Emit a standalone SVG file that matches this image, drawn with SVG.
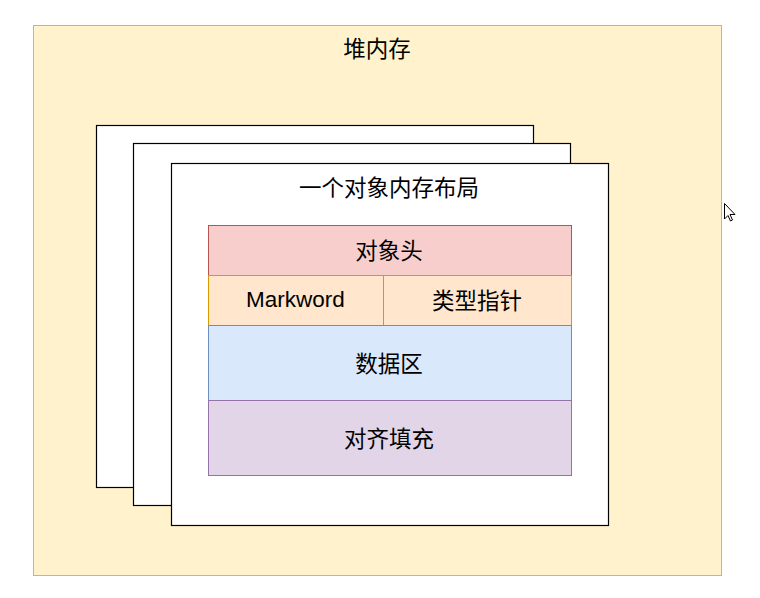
<svg xmlns="http://www.w3.org/2000/svg" width="760" height="598" viewBox="0 0 760 598">
<style>
  text { font-family: "Noto Sans CJK SC", "Liberation Sans", sans-serif; font-size: 22.5px; fill: #000; text-anchor: middle; dominant-baseline: central; }
  .latin { font-family: "Liberation Sans", "Noto Sans CJK SC", sans-serif; }
  .obj { fill: #fff; stroke: #000; stroke-width: 1.2; }
</style>
<rect width="760" height="598" fill="#ffffff"/>
<g id="heap">
  <rect x="33.5" y="25.5" width="688" height="550" fill="#fff2cc" stroke="#d6b656"/>
  <text x="377" y="47">堆内存</text>
</g>
<g id="obj1"><rect class="obj" x="96.5" y="125.5" width="437" height="362"/></g>
<g id="obj2"><rect class="obj" x="133.5" y="143.5" width="437" height="362"/></g>
<g id="obj3">
  <rect class="obj" x="171.5" y="163.5" width="437" height="362"/>
  <text x="389" y="186">一个对象内存布局</text>
</g>
<g id="header">
  <rect x="208.5" y="225.5" width="363" height="50" fill="#f8cecc" stroke="#b85450"/>
  <text x="389" y="249">对象头</text>
</g>
<g id="markword">
  <rect x="208.5" y="275.5" width="175" height="50" fill="#ffe6cc" stroke="#d79b00"/>
  <text class="latin" x="295.5" y="299">Markword</text>
</g>
<g id="klass">
  <rect x="383.5" y="275.5" width="188" height="50" fill="#ffe6cc" stroke="#d79b00"/>
  <text x="477" y="299">类型指针</text>
</g>
<g id="data">
  <rect x="208.5" y="325.5" width="363" height="75" fill="#dae8fc" stroke="#6c8ebf"/>
  <text x="389" y="362">数据区</text>
</g>
<g id="padding">
  <rect x="208.5" y="400.5" width="363" height="75" fill="#e1d5e7" stroke="#9673a6"/>
  <text x="389" y="437">对齐填充</text>
</g>
<g id="connectors"></g>
<path d="M724.5 203.5 L724.5 219 L728 215.5 L730.5 221 L732.5 220 L730 214.5 L735 214.5 Z" fill="#fff" stroke="#000" stroke-width="1" stroke-linejoin="round"/>
</svg>
